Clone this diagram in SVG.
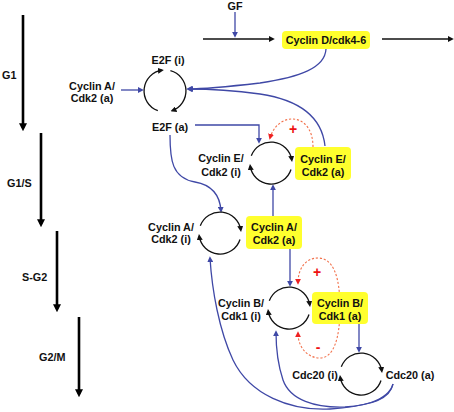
<svg xmlns="http://www.w3.org/2000/svg" width="454" height="412" viewBox="0 0 454 412">
<style>
text{font-family:"Liberation Sans",Arial,sans-serif;font-weight:bold;font-size:10.8px;fill:#111;text-anchor:middle}
.ph{text-anchor:start}
.blue{fill:none;stroke:#3f48a6;stroke-width:1.3;marker-end:url(#ab)}
.blk{fill:none;stroke:#111;stroke-width:1.4}
.phase{fill:none;stroke:#000;stroke-width:2.6;marker-end:url(#ap)}
.cyc{fill:none;stroke:#111;stroke-width:1.3;marker-end:url(#ak)}
.red{fill:none;stroke:#f2704a;stroke-width:1.1;stroke-dasharray:2.2 1.8;marker-end:url(#ar)}
.box{fill:#ffff2e}
.sign{fill:#ee1111;font-size:14px}
</style>
<defs>
<marker id="ab" viewBox="0 0 10 10" refX="7" refY="5" markerWidth="6" markerHeight="6" markerUnits="userSpaceOnUse" orient="auto"><path d="M0,0 L10,5 L0,10 z" fill="#3f48a6"/></marker>
<marker id="ak" viewBox="0 0 10 10" refX="7" refY="5" markerWidth="6" markerHeight="6" markerUnits="userSpaceOnUse" orient="auto"><path d="M0,0 L10,5 L0,10 z" fill="#111"/></marker>
<marker id="ap" viewBox="0 0 10 10" refX="6" refY="5" markerWidth="8" markerHeight="8" markerUnits="userSpaceOnUse" orient="auto"><path d="M0,0 L10,5 L0,10 z" fill="#000"/></marker>
<marker id="ar" viewBox="0 0 10 10" refX="7" refY="5" markerWidth="6" markerHeight="6" markerUnits="userSpaceOnUse" orient="auto"><path d="M0,0 L10,5 L0,10 z" fill="#ee2222"/></marker>
<path id="hTop" class="cyc" d="M-19.7,-5.2 A21,21 0 0 1 20.8,-0.9"/>
<path id="hBot" class="cyc" d="M20.0,8.5 A21,21 0 0 1 -20.8,4.9"/>
</defs>

<!-- phase arrows -->
<g id="phases">
<path class="phase" d="M23,15 L23,128"/>
<text class="ph" x="2" y="79">G1</text>
<path class="phase" d="M41,133 L41,224"/>
<text class="ph" x="7" y="187">G1/S</text>
<path class="phase" d="M57,231 L57,309"/>
<text class="ph" x="22" y="281">S-G2</text>
<path class="phase" d="M79,317 L79,394"/>
<text class="ph" x="39" y="361">G2/M</text>
</g>

<!-- connectors -->
<g id="connectors">
<path class="blk" d="M203,39 L273,39" marker-end="url(#ak)"/>
<path class="blk" d="M382,39 L452,39" marker-end="url(#ak)"/>
<path class="blue" d="M235,12 L235,36"/>
<path class="blue" d="M326,49 C325,68 300,77 260,83 C225,87 205,89 188,89"/>
<path class="blue" d="M325,146 C322,118 300,100 260,94 C230,90 205,89 189,89"/>
<path class="blue" d="M121,90 L142,90"/>
<path class="blue" d="M195,125 L259,125 L259,142"/>
<path class="blue" d="M170,135 C170,160 172,178 195,182 C212,185 220,195 221,211"/>
<path class="blue" d="M273,216 L273,186"/>
<path class="blue" d="M290,248 L290,285"/>
<path class="blue" d="M359,323 L359,351"/>
<path class="blue" d="M393,384 C390,400 370,405 345,407 C315,408 290,400 283,380 C278,365 276,350 276,332"/>
<path class="blue" d="M393,384 C388,402 360,407 330,409 C290,411 250,395 233,360 C219,330 212,290 210,258"/>
<path class="red" d="M313,147 C313,128 303,119 292,119 C282,119 273,127 270,138"/>
<path class="red" d="M340,308 C340,276 333,258 318,258 C306,258 298,268 298,283"/>
<path class="red" d="M340,308 C340,340 333,358 320,358 C308,358 298,348 298,333"/>
<text class="sign" x="293" y="134">+</text>
<text class="sign" x="317" y="277">+</text>
<text class="sign" x="318" y="352">-</text>
</g>

<!-- nodes -->
<g id="gf"><text x="235" y="10">GF</text></g>

<g id="cyclinD">
<rect class="box" x="282" y="31" width="88" height="18" rx="4"/>
<text x="326" y="44">Cyclin D/cdk4-6</text>
</g>

<g id="e2f-cycle">
<path class="cyc" d="M157.8,110.7 A21,21 0 0 1 162.1,70.2"/>
<path class="cyc" d="M170.4,70.7 A21,21 0 0 1 172.2,110.7"/>
<text x="168" y="64">E2F (i)</text>
<text x="170" y="131">E2F (a)</text>
</g>

<g id="cyclinA-left">
<text x="92" y="90">Cyclin A/</text>
<text x="92" y="102">Cdk2 (a)</text>
</g>

<g id="cyclinE-cycle">
<use href="#hTop" x="271" y="161"/>
<use href="#hBot" x="271" y="161"/>
<text x="221" y="162">Cyclin E/</text>
<text x="221" y="176">Cdk2 (i)</text>
<rect class="box" x="295" y="147" width="56" height="33" rx="4"/>
<text x="323" y="163">Cyclin E/</text>
<text x="323" y="176">Cdk2 (a)</text>
</g>

<g id="cyclinA-cycle">
<use href="#hTop" x="220" y="231"/>
<use href="#hBot" x="220" y="231"/>
<text x="171" y="231">Cyclin A/</text>
<text x="171" y="243">Cdk2 (i)</text>
<rect class="box" x="246" y="216" width="56" height="33" rx="4"/>
<text x="274" y="231">Cyclin A/</text>
<text x="274" y="244">Cdk2 (a)</text>
</g>

<g id="cyclinB-cycle">
<use href="#hTop" x="289" y="306"/>
<use href="#hBot" x="289" y="306"/>
<text x="241" y="307">Cyclin B/</text>
<text x="241" y="320">Cdk1 (i)</text>
<rect class="box" x="312" y="292" width="56" height="32" rx="4"/>
<text x="340" y="307">Cyclin B/</text>
<text x="340" y="320">Cdk1 (a)</text>
</g>

<g id="cdc20-cycle">
<use href="#hTop" x="361" y="372"/>
<use href="#hBot" x="361" y="372"/>
<text x="315" y="379">Cdc20 (i)</text>
<text x="410" y="379">Cdc20 (a)</text>
</g>
</svg>
